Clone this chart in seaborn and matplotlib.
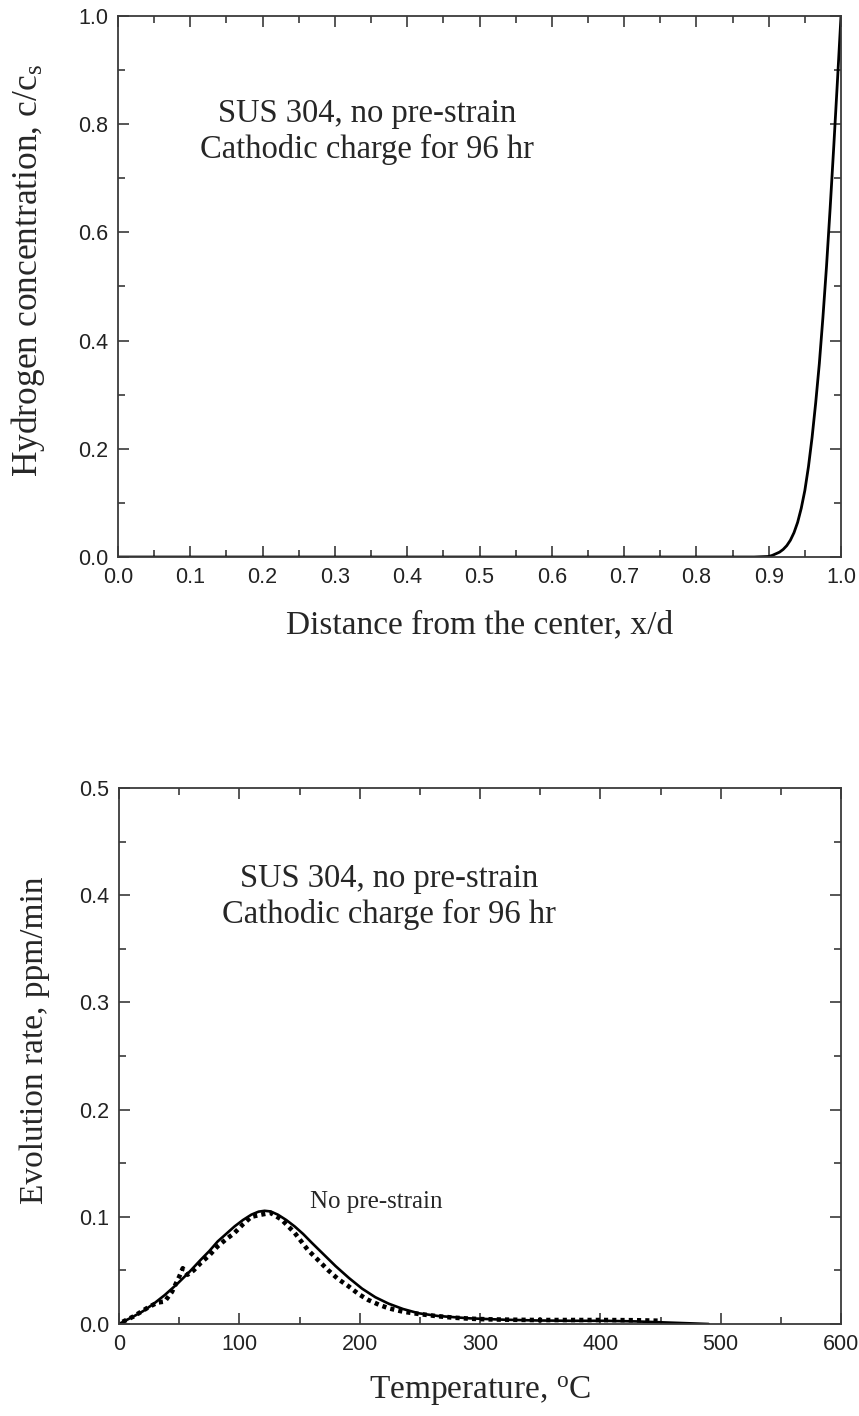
import matplotlib
matplotlib.use("Agg")
import matplotlib.pyplot as plt
from matplotlib.ticker import MultipleLocator
import pandas as pd
import seaborn as sns

# Hydrogen concentration profile after 96 h cathodic charging
depth_x = [0.0, 0.5, 0.88, 0.90, 0.905, 0.91, 0.915, 0.92, 0.925, 0.93, 0.935,
           0.94, 0.945, 0.95, 0.955, 0.96, 0.965, 0.97, 0.975, 0.98, 0.985,
           0.99, 0.995, 1.0]
conc_c = [0.0, 0.0, 0.0, 0.001, 0.003, 0.006, 0.009, 0.014, 0.021, 0.031,
          0.045, 0.064, 0.090, 0.123, 0.167, 0.221, 0.285, 0.357, 0.443,
          0.538, 0.645, 0.759, 0.878, 1.0]

# Thermal desorption: simulated (solid) and measured (dotted) evolution rates
sim_T = [0, 5, 12, 20, 29, 38, 48, 58, 68, 75, 82, 89, 96, 103, 110, 116, 121,
         126, 132, 139, 146, 153, 160, 170, 180, 191, 202, 213, 224, 236, 249,
         265, 291, 320, 347, 375, 403, 430, 450, 470, 490]
sim_rate = [0.0, 0.003, 0.007, 0.012, 0.019, 0.027, 0.037, 0.048, 0.060,
            0.068, 0.077, 0.084, 0.091, 0.097, 0.102, 0.1048, 0.1056, 0.1050,
            0.102, 0.097, 0.091, 0.084, 0.076, 0.065, 0.054, 0.043, 0.033,
            0.025, 0.019, 0.014, 0.010, 0.0075, 0.0053, 0.004, 0.0033, 0.003,
            0.003, 0.0024, 0.0016, 0.0008, 0.0]

exp_T = [3, 12, 25, 32, 38, 44, 50, 53, 57, 62, 68, 75, 82, 89, 96, 103, 110,
         118, 126, 135, 146, 157, 166, 174, 182, 191, 199, 207, 216, 224, 236,
         249, 263, 277, 291, 305, 325, 347, 375, 403, 430, 450]
exp_rate = [0.002, 0.007, 0.016, 0.020, 0.021, 0.030, 0.044, 0.052, 0.046,
            0.050, 0.057, 0.064, 0.0725, 0.079, 0.085, 0.093, 0.100, 0.102,
            0.1037, 0.0975, 0.085, 0.069, 0.059, 0.050, 0.042, 0.035, 0.028,
            0.0225, 0.018, 0.0147, 0.0115, 0.0094, 0.0075, 0.006, 0.005,
            0.0044, 0.004, 0.0037, 0.0037, 0.0037, 0.0035, 0.003]

top_note = "SUS 304, no pre-strain\nCathodic charge for 96 hr"
curve_note = "No pre-strain"

sns.set_theme(style="ticks")
plt.rcParams["font.family"] = ["Liberation Sans", "DejaVu Sans"]
plt.rcParams["mathtext.fontset"] = "custom"
plt.rcParams["mathtext.rm"] = "Liberation Serif"
plt.rcParams["mathtext.it"] = "Liberation Serif:italic"

SERIF = ["Liberation Serif", "DejaVu Serif"]
SPINE = "#3a3a3a"

fig = plt.figure(figsize=(8.59, 14.16), dpi=100)
W, H = 859, 1416
ax1 = fig.add_axes([118 / W, 1 - 557 / H, 723 / W, 541 / H])
ax2 = fig.add_axes([119 / W, 1 - 1324 / H, 722 / W, 536 / H])

profile = pd.DataFrame({"x": depth_x, "c": conc_c})
sns.lineplot(data=profile, x="x", y="c", ax=ax1, color="black", lw=2.0,
             sort=False)

sim = pd.DataFrame({"T": sim_T, "rate": sim_rate})
exp = pd.DataFrame({"T": exp_T, "rate": exp_rate})
sns.lineplot(data=exp, x="T", y="rate", ax=ax2, color="black", lw=3.3,
             sort=False)
dotted = ax2.lines[-1]
dotted.set_linestyle((0, (0.9, 0.9)))
dotted.set_dash_capstyle("butt")
sns.lineplot(data=sim, x="T", y="rate", ax=ax2, color="black", lw=1.9,
             sort=False)


def style(ax, xmaj, xmin, ymaj, ymin, xlim, ylim, xfmt, yfmt):
    ax.set_xlim(*xlim)
    ax.set_ylim(*ylim)
    ax.xaxis.set_major_locator(MultipleLocator(xmaj))
    ax.xaxis.set_minor_locator(MultipleLocator(xmin))
    ax.yaxis.set_major_locator(MultipleLocator(ymaj))
    ax.yaxis.set_minor_locator(MultipleLocator(ymin))
    ax.xaxis.set_major_formatter(xfmt)
    ax.yaxis.set_major_formatter(yfmt)
    for s in ax.spines.values():
        s.set_visible(True)
        s.set_color(SPINE)
        s.set_linewidth(1.3)
    ax.tick_params(which="both", direction="in", top=True, right=True,
                   color=SPINE, width=1.2, labelsize=15.5,
                   labelcolor="#222222")
    ax.tick_params(which="major", length=8, pad=7)
    ax.tick_params(which="minor", length=5)


style(ax1, 0.1, 0.05, 0.2, 0.1, (0, 1), (0, 1),
      lambda v, p: f"{v:.1f}", lambda v, p: f"{v:.1f}")
style(ax2, 100, 50, 0.1, 0.05, (0, 600), (0, 0.5),
      lambda v, p: f"{v:.0f}", lambda v, p: f"{v:.1f}")

ax1.set_xlabel("Distance from the center, x/d", family=SERIF, fontsize=24)
ax1.set_ylabel("Hydrogen concentration, c/c$_\\mathrm{s}$", family=SERIF,
               fontsize=25.5)
ax2.set_xlabel("Temperature, $^\\mathrm{o}$C", family=SERIF, fontsize=24)
ax2.set_ylabel("Evolution rate, ppm/min", family=SERIF, fontsize=24)

ax1.xaxis.set_label_coords(0.5, -0.098)
ax1.yaxis.set_label_coords(-0.098, 0.53)
ax2.xaxis.set_label_coords(0.5, -0.094)
ax2.yaxis.set_label_coords(-0.096, 0.53)

ax1.text(0.344, 0.7865, top_note, transform=ax1.transAxes, ha="center",
         va="center", multialignment="center", family=SERIF, fontsize=23.5,
         linespacing=1.2)
ax2.text(0.374, 0.7976, top_note, transform=ax2.transAxes, ha="center",
         va="center", multialignment="center", family=SERIF, fontsize=23.5,
         linespacing=1.2)
ax2.text(214, 0.1138, curve_note, ha="center", va="center", family=SERIF,
         fontsize=18)

fig.savefig("out.png", dpi=100)
